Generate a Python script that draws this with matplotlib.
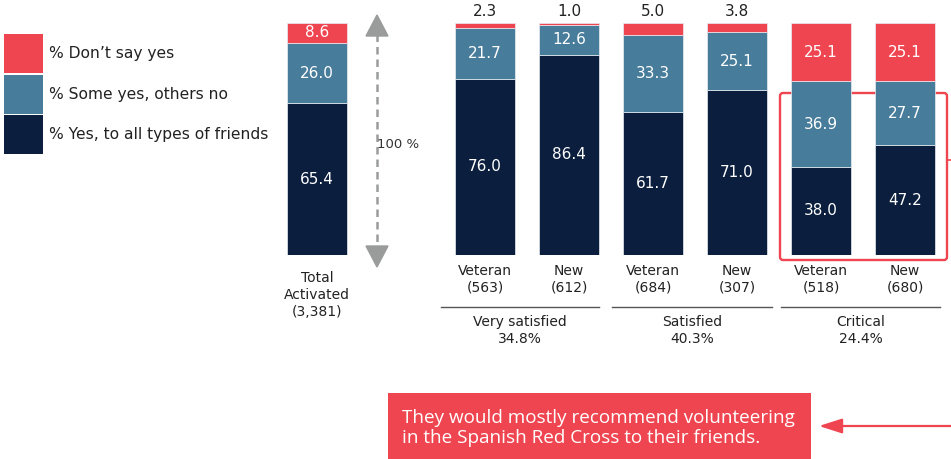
import matplotlib

matplotlib.use("Agg")
import matplotlib.pyplot as plt
from matplotlib.patches import FancyBboxPatch, Rectangle

RED = "#ef4550"
BLUE = "#487c9b"
NAVY = "#0b1e3d"
GREY = "#9a9c9c"
TEXT = "#222222"

series_names = ["% Don’t say yes", "% Some yes, others no", "% Yes, to all types of friends"]

bar_labels = ["Total\nActivated\n(3,381)", "Veteran\n(563)", "New\n(612)",
              "Veteran\n(684)", "New\n(307)", "Veteran\n(518)", "New\n(680)"]
yes_all = [65.4, 76.0, 86.4, 61.7, 71.0, 38.0, 47.2]
some_yes = [26.0, 21.7, 12.6, 33.3, 25.1, 36.9, 27.7]
dont_say = [8.6, 2.3, 1.0, 5.0, 3.8, 25.1, 25.1]

group_names = ["Very satisfied\n34.8%", "Satisfied\n40.3%", "Critical\n24.4%"]

callout_text = "They would mostly recommend volunteering\nin the Spanish Red Cross to their friends."

# bar centres in figure pixels (x axis of the bar axes is pixel based)
bar_x = [317, 485, 569, 653, 737, 821, 905]
BAR_W = 60
group_spans = [(441, 599), (612, 772), (781, 940)]

W, H = 951, 459
BAR_TOP, BAR_BOT = 23, 255

fig = plt.figure(figsize=(W / 100, H / 100), dpi=100)

# overlay axes in pixel coordinates for labels and annotations
over = fig.add_axes([0, 0, 1, 1])
over.set_xlim(0, W)
over.set_ylim(H, 0)
over.axis("off")

ax = fig.add_axes([0, (H - BAR_BOT) / H, 1, (BAR_BOT - BAR_TOP) / H])
ax.set_xlim(0, W)
ax.set_ylim(0, 100)
ax.axis("off")

bottoms = [0.0] * len(bar_x)
for values, color in zip([yes_all, some_yes, dont_say], [NAVY, BLUE, RED]):
    ax.bar(bar_x, values, width=BAR_W, bottom=bottoms, color=color,
           edgecolor="#e8edf2", linewidth=0.5)
    for x, b, v in zip(bar_x, bottoms, values):
        if v >= 8:
            ax.text(x, b + v / 2, f"{v:.1f}", ha="center", va="center",
                    color="white", fontsize=11)
        else:
            over.text(x, 11, f"{v:.1f}", ha="center", va="center",
                      color=TEXT, fontsize=11)
    bottoms = [b + v for b, v in zip(bottoms, values)]

for i, (x, lab) in enumerate(zip(bar_x, bar_labels)):
    over.text(x, 271 if i == 0 else 264, lab, ha="center", va="top", color=TEXT,
              fontsize=10, linespacing=1.25)

for (x0, x1), name in zip(group_spans, group_names):
    over.plot([x0, x1], [307, 307], color="#555555", linewidth=1)
    over.text((x0 + x1) / 2, 315, name, ha="center", va="top", color=TEXT,
              fontsize=10, linespacing=1.25)

# legend
for i, (name, color) in enumerate(zip(series_names, [RED, BLUE, NAVY])):
    top = 34 + i * 40.5
    over.add_patch(Rectangle((4, top), 39, 39, facecolor=color, edgecolor="none"))
    over.text(49, top + 19.5, name, ha="left", va="center", color=TEXT, fontsize=11.2)

# 100 % double arrow
over.plot([377, 377], [34, 248], color=GREY, linewidth=1.8, linestyle=(0, (3, 2)))
over.add_patch(plt.Polygon([(377, 15), (366, 36), (388, 36)], color=GREY))
over.add_patch(plt.Polygon([(377, 267), (366, 246), (388, 246)], color=GREY))
over.text(377, 145, "100 %", ha="left", va="center", color="#333333", fontsize=9.5)

# highlight around the critical group
over.add_patch(FancyBboxPatch((780, 93), 167, 167,
                              boxstyle="round,pad=0,rounding_size=3",
                              facecolor="none", edgecolor=RED, linewidth=1.7))
over.plot([947, 951], [160, 160], color=RED, linewidth=1.2)

# callout
over.add_patch(Rectangle((388, 393), 423, 70, facecolor=RED, edgecolor="none"))
over.text(402, 428, callout_text, ha="left", va="center", color="white",
          fontsize=13.6, family="Open Sans", linespacing=1.18)
over.annotate("", xy=(819, 426), xytext=(951, 426),
              arrowprops=dict(arrowstyle="-|>,head_length=1.4,head_width=0.45",
                              color=RED, linewidth=1.6, shrinkA=0, shrinkB=0))

fig.savefig("out.png", dpi=100)
